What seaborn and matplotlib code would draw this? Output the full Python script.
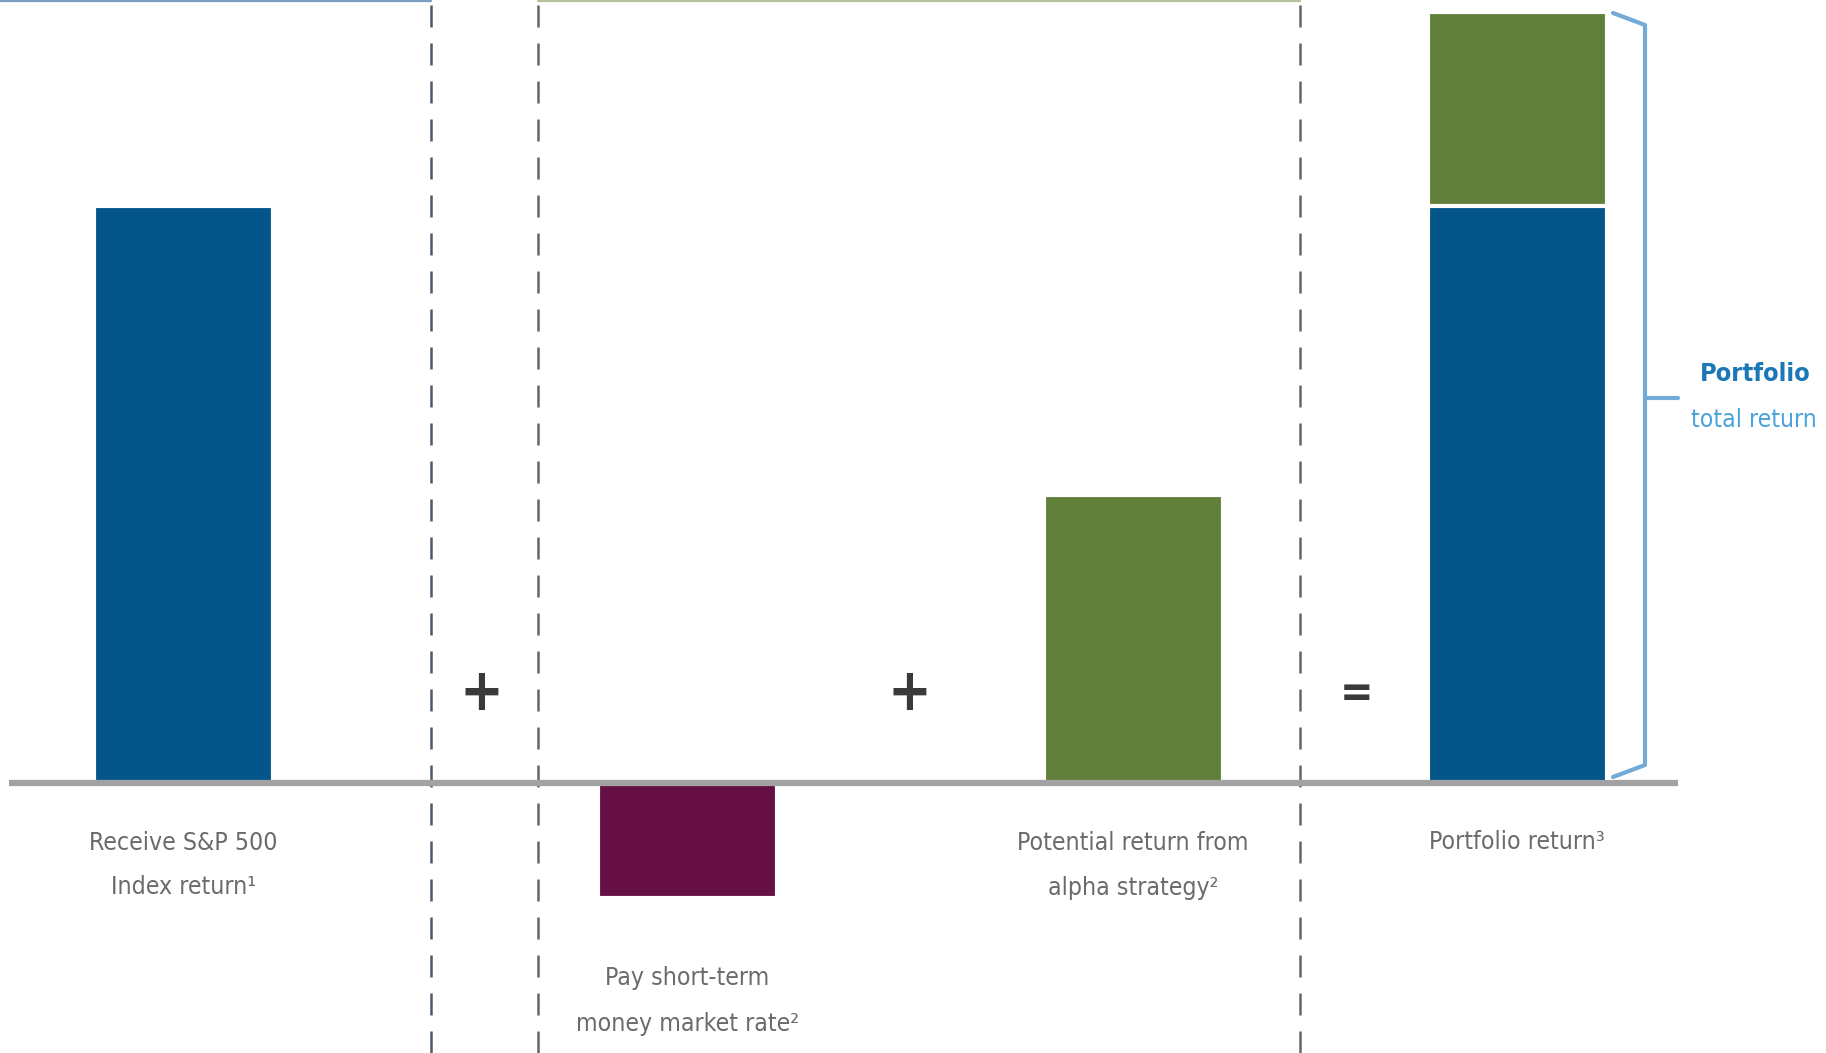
import numpy as np
import pandas as pd
import matplotlib
matplotlib.use("Agg")
import matplotlib.pyplot as plt
import seaborn as sns
from matplotlib import font_manager as fm

# ---------------- data ----------------
categories = [
    "Receive S&P 500\nIndex return\u00b9",
    "Pay short-term\nmoney market rate\u00b2",
    "Potential return from\nalpha strategy\u00b2",
    "Portfolio return\u00b3",
]
index_values = [10.0, None, None, 10.0]      # blue: S&P 500 index return
mm_values = [None, -2.0, None, None]         # maroon: short-term money market rate paid
alpha_values = [None, None, 5.0, 3.36]       # green: alpha strategy return
operators = ["+", "+", "="]
bracket_title = "Portfolio"
bracket_sub = "total return"

# ---------------- layout (pixels of a 1826x1053 canvas) ----------------
W, H = 1826, 1053
BASE_PX = 783
PX_PER_UNIT = 57.7
bar_centers = [183.5, 687.5, 1133, 1517]
bar_width_px = 179
divider_x = [431, 538, 1300]
operator_x = [481, 909, 1357]
label_center_px = [865, 1001, 865, 842]     # vertical centre of each label block
label_width_px = [190, 220, 231, 176]       # widest line of each label
LINE_STEP_PX = 45


def ypx(p):
    return (BASE_PX - p) / PX_PER_UNIT


# ---------------- font choice (narrowest installed sans face) ----------------
STRETCH = {"ultra-condensed": 100, "extra-condensed": 200, "condensed": 300,
           "semi-condensed": 400, "normal": 500, "semi-expanded": 600,
           "expanded": 700}


def _w(f):
    w = f.weight
    if isinstance(w, str):
        w = fm.weight_dict.get(w, 400)
    return w


def _s(f):
    s = f.stretch
    if isinstance(s, str):
        s = STRETCH.get(s, 500)
    nm = f.name
    if "ExtraCondensed" in nm or "Extra Condensed" in nm:
        s = min(s, 200)
    elif "Narrow" in nm or "Condensed" in nm:
        s = min(s, 300)
    return s


def pick_font(bold):
    target = 700 if bold else 400
    best, best_score = None, None
    for f in fm.fontManager.ttflist:
        nm = f.name
        if not any(k in nm for k in ("Liberation Sans", "DejaVu Sans", "Noto Sans",
                                     "Roboto", "Open Sans", "Lato", "Inter")):
            continue
        if any(k in nm for k in ("CJK", "Mono", "Serif", "Display", "Symbols")):
            continue
        if f.style != "normal":
            continue
        score = _s(f) * 2 + abs(_w(f) - target)
        if best_score is None or score < best_score:
            best, best_score = f, score
    if best is None:
        return fm.FontProperties(family="Liberation Sans",
                                 weight="bold" if bold else "normal")
    return fm.FontProperties(fname=best.fname)


font_reg = pick_font(False)
font_bold = pick_font(True)

# ---------------- colours ----------------
BLUE = "#03558a"
GREEN = "#61803a"
MAROON = "#650f45"
palette = {"alpha": GREEN, "index": BLUE, "mm": MAROON}

# ---------------- long-form table ----------------
rows = []
for i in range(len(categories)):
    base = index_values[i] if index_values[i] is not None else 0.0
    if alpha_values[i] is not None:
        rows.append(dict(pos=bar_centers[i], value=base + alpha_values[i], part="alpha"))
    if index_values[i] is not None:
        rows.append(dict(pos=bar_centers[i], value=index_values[i], part="index"))
    if mm_values[i] is not None:
        rows.append(dict(pos=bar_centers[i], value=mm_values[i], part="mm"))
df = pd.DataFrame(rows)

sns.set_theme(style="white")
fig = plt.figure(figsize=(W / 100, H / 100), dpi=100)
ax = fig.add_axes([0, 0, 1, 1])

min_gap = np.min(np.diff(sorted(set(bar_centers))))
sns.barplot(data=df, x="pos", y="value", hue="part",
            hue_order=["alpha", "index", "mm"], palette=palette,
            native_scale=True, dodge=False, orient="x",
            width=bar_width_px / min_gap, errorbar=None, saturation=1,
            edgecolor="white", linewidth=3, legend=False, ax=ax, zorder=2)

ax.set_xlim(0, W)
ax.set_ylim(-(H - BASE_PX) / PX_PER_UNIT, BASE_PX / PX_PER_UNIT)
ax.axis("off")

# baseline
ax.plot([9, 1678], [0, 0], color="#a2a2a2", lw=4.5, zorder=3,
        solid_capstyle="butt")

# dashed dividers
div_colors = ["#4d5b6b", "#666660", "#666666"]
for x, c in zip(divider_x, div_colors):
    ax.axvline(x, color=c, lw=1.8, linestyle=(0, (8.8, 6.4)), zorder=1)

# thin header rules at the very top
ytop = BASE_PX / PX_PER_UNIT - 1.0 / PX_PER_UNIT
ax.plot([0, divider_x[0]], [ytop, ytop], color="#7d9dc2", lw=1.6, zorder=4)
ax.plot([divider_x[1], divider_x[2]], [ytop, ytop], color="#b5c29b", lw=1.6, zorder=4)

# operators
for x, op in zip(operator_x, operators):
    ax.text(x, ypx(694), op, ha="center", va="center", fontproperties=font_bold,
            fontsize=42 if op == "+" else 32, color="#3a3a3a", zorder=5)

# category labels
label_texts = []
for x, lab, yc in zip(bar_centers, categories, label_center_px):
    t = ax.text(x, ypx(yc), lab, ha="center", va="center",
                fontproperties=font_reg, fontsize=20, color="#6b6b6b",
                linespacing=1.2, zorder=5)
    label_texts.append(t)

# bracket for portfolio total return
total = index_values[3] + alpha_values[3]
bx = 1645
bcol = "#72aad8"
ax.plot([1613, bx, bx, 1613], [ypx(13), ypx(25), ypx(765), ypx(777)],
        color=bcol, lw=3.0, zorder=4, solid_joinstyle="round")
ax.plot([bx, 1678], [total / 2, total / 2], color=bcol, lw=3.0, zorder=4)
t_title = ax.text(1755, ypx(374), bracket_title, ha="center", va="center",
                  fontproperties=font_bold, fontsize=26, color="#1b77b8", zorder=5)
t_sub = ax.text(1754, ypx(420), bracket_sub, ha="center", va="center",
                fontproperties=font_reg, fontsize=20, color="#4aa3dc", zorder=5)

# ---- size the texts so their widths follow the reference ----
fig.canvas.draw()
renderer = fig.canvas.get_renderer()


def fitted_size(t, target_px):
    w = t.get_window_extent(renderer=renderer).width
    return t.get_fontsize() * target_px / w


sizes = [fitted_size(t, w) for t, w in zip(label_texts, label_width_px)]
lab_size = min(float(np.mean(sizes)), 24)
fp = font_reg.copy()
fp.set_size(lab_size)
_, lp_h, lp_d = renderer.get_text_width_height_descent("lp", fp, ismath=False)
for t in label_texts:
    t.set_fontsize(lab_size)
    t.set_linespacing((LINE_STEP_PX - lp_d) / max(lp_h - lp_d, 1.0))

t_title.set_fontsize(min(fitted_size(t_title, 111), 30))
t_sub.set_fontsize(min(fitted_size(t_sub, 125), 24))

fig.savefig("out.png", dpi=100)
